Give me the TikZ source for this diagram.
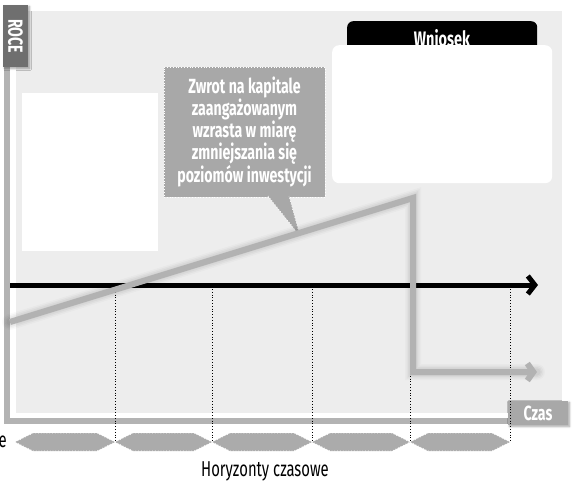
\documentclass[tikz,border=0pt]{standalone}
\usepackage{fontspec}
\setmainfont{Fira Sans}
\newfontfamily\cond{Fira Sans}[FakeStretch=0.69]
\usetikzlibrary{arrows.meta,calc,shadows.blur}

\definecolor{panelgray}{HTML}{EDEDED}
\definecolor{axisgray}{HTML}{B3B3B3}
\definecolor{trendgray}{HTML}{B2B2B2}
\definecolor{calloutgray}{HTML}{A8A8A8}
\definecolor{hexgray}{HTML}{ABABAB}
\definecolor{labeldark}{HTML}{6F6F6F}

\tikzset{
  whitepanel/.style={fill=white, inner sep=0pt, anchor=north west},
  axisbar/.style={draw=axisgray, line width=6pt, line cap=butt},
  axislabel/.style={text=white, inner sep=0pt, font=\cond\bfseries\fontsize{20.5}{20}\selectfont,
    blur shadow={shadow xshift=1.5pt, shadow yshift=-1.5pt, shadow blur steps=6, shadow opacity=35}},
  callout/.style={fill=calloutgray, draw=white, dotted, line width=0.8pt, text=white,
    align=center, inner sep=0pt, font=\cond\bfseries\fontsize{20.5}{20}\selectfont},
  timeline/.style={draw=black, line width=5pt, -{Straight Barb[length=7pt,width=18pt]}},
  trend/.style={draw=trendgray, line width=6pt, line join=miter,
    -{Straight Barb[length=6pt,width=17pt]}},
  trendshadow/.style={draw=black, line join=miter, line cap=round},
  divider/.style={draw=black, dotted, line width=0.8pt},
  horizon/.style={fill=hexgray, draw=white, dotted, line width=0.8pt},
  caption/.style={inner sep=0pt, font=\cond\fontsize{21.5}{20}\selectfont}
}

\begin{document}
\begin{tikzpicture}[x=1pt,y=-1pt]
\useasboundingbox (0,0) rectangle (572,481);

% chart area
\fill[panelgray] (16,11) rectangle (562,413);

% empty text panels
\node[whitepanel, minimum width=136pt, minimum height=158pt] (leftpanel) at (22,93) {};
\node[fill=black, rounded corners=6pt, inner sep=0pt, anchor=north west,
      minimum width=190pt, minimum height=30pt] (tab) at (347,21) {};
\node[anchor=base, inner sep=0pt, text=white,
      font=\cond\bfseries\fontsize{21}{20}\selectfont] (tabtitle) at (442,46.5) {Wniosek};
\node[whitepanel, rounded corners=7pt, minimum width=220pt, minimum height=138pt] (conclusion) at (332,45) {};

% axes
\coordinate (ytop) at (7,66);
\coordinate (corner) at (7,421);
\coordinate (xend) at (510,421);
\draw[axisbar] (ytop) -- (corner) -- (xend);
\node[axislabel, fill=labeldark, rotate=-90, minimum width=62pt, minimum height=25pt] (roce) at (15.5,36) {ROCE};
\node[axislabel, fill=calloutgray, minimum width=60pt, minimum height=24pt] (czas) at (538,413) {Czas};

% horizon dividers
\foreach \x/\n in {115/1,212/2,312/3,410/4,510/5}{
  \coordinate (dtop\n) at (\x,289);
  \coordinate (dbot\n) at (\x,442);
  \draw[divider] (dtop\n) -- (dbot\n);
}

% time axis
\coordinate (tstart) at (10,285);
\coordinate (tend) at (538,285);
\draw[timeline] (tstart) -- (tend);

% callout
\node[callout, minimum width=161pt, minimum height=130pt] (note) at (244.5,132)
  {Zwrot na kapitale\\zaangażowanym\\wzrasta w miarę\\zmniejszania się\\poziomów inwestycji};
\coordinate (tailL) at (268,196);
\coordinate (tailR) at (289,196);
\coordinate (tailtip) at (300,236);
\fill[calloutgray] ($(tailL)+(0,-2)$) -- (tailL) -- (tailtip) -- (tailR) -- ($(tailR)+(0,-2)$) -- cycle;
\draw[divider, draw=white] (tailL) -- (tailtip) -- (tailR);

% return on capital employed, with a soft drop shadow
\coordinate (r0) at (10,322);
\coordinate (r1) at (413,198);
\coordinate (r2) at (413,372);
\coordinate (r3) at (537,372);
\begin{scope}[shift={(1.5,3)}]
  \foreach \w/\o in {16/0.02,13/0.03,10/0.035,7/0.04}{
    \draw[trendshadow, line width=\w pt, opacity=\o] (r0) -- (r1) -- (r2) -- (r3);
  }
\end{scope}
\draw[trend] (r0) -- (r1) -- (r2) -- (r3);

% time horizons
\foreach \a/\b/\n in {15/115/1,115/212/2,212/312/3,312/410/4,410/510/5}{
  \path[horizon] (\a,442) -- (\a+18,433) -- (\b-18,433) -- (\b,442)
                 -- (\b-18,451) -- (\a+18,451) -- cycle;
  \node[inner sep=0pt] (hz\n) at ({(\a+\b)/2},442) {};
}

\node[caption, anchor=base east] (cut) at (7,447) {e};
\node[caption, anchor=base] (horizons) at (265,476) {Horyzonty czasowe};
\end{tikzpicture}
\end{document}
